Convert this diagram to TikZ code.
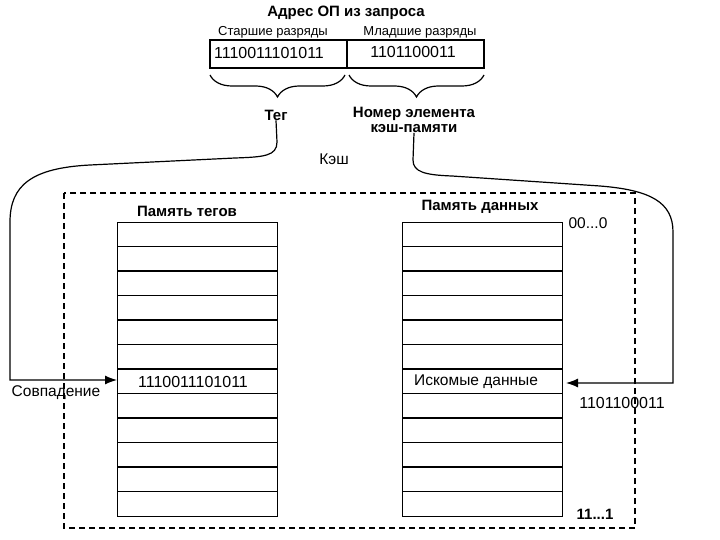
\documentclass[tikz,border=0pt]{standalone}
\usepackage{fontspec}
\setmainfont{Liberation Sans}
\usetikzlibrary{arrows.meta,decorations.pathreplacing}

\begin{document}
\begin{tikzpicture}[x=1pt,y=-1pt,
    line/.style={line width=1.2pt},
    txt/.style={inner sep=0pt,font=\fontsize{15.5}{17}\selectfont},
    digits/.style={inner sep=0pt,font=\fontsize{16}{18}\selectfont},
    small/.style={inner sep=0pt,font=\fontsize{13}{15}\selectfont},
    bold/.style={inner sep=0pt,font=\fontsize{15}{17}\selectfont\bfseries,align=center},
    mem/.style={draw,line width=1.2pt,minimum width=160pt,minimum height=294pt,inner sep=0pt,anchor=north west},
    brace/.style={decorate,decoration={brace,amplitude=22pt},line width=1.2pt},
    arr/.style={line,-{Latex[length=12pt,width=9pt]}}]
  \useasboundingbox (0,0) rectangle (720,540);

  % address from the request
  \node[bold] (title) at (346,13) {Адрес ОП из запроса};
  \node[small] (hi) at (273,32) {Старшие разряды};
  \node[small] (lo) at (420,32) {Младшие разряды};
  \draw[line] (210,40) rectangle (484,68);
  \draw[line] (347,40) -- (347,68);
  \node[digits] (tagbits) at (269,53) {1110011101011};
  \node[digits] (idxbits) at (413,52) {1101100011};

  \draw[brace] (345,75) -- (210,75);
  \draw[brace] (484,75) -- (349,75);
  \node[bold] (teg) at (276,115) {Тег};
  \node[bold,font=\fontsize{15}{15}\selectfont\bfseries] (nom) at (414,120) {Номер элемента\\кэш-памяти};

  % cache
  \draw[line,dash pattern=on 6pt off 4pt] (64,193) rectangle (635,528);
  \node[txt] (kesh) at (334,159) {Кэш};

  \node[bold] (tagname) at (187,211) {Память тегов};
  \node[bold] (dataname) at (480,207) {Память данных};
  \node[mem] (tagmem) at (117,222) {};
  \node[mem] (datamem) at (402,222) {};
  \foreach \i in {1,...,11} {
    \draw[line] (117,{222+24.5*\i}) -- (277,{222+24.5*\i});
    \draw[line] (402,{222+24.5*\i}) -- (562,{222+24.5*\i});
  }
  \node[txt] (first) at (588,223) {00...0};
  \node[bold] (last) at (595,514) {11...1};

  \node[digits] (found) at (193,382) {1110011101011};
  \node[txt] (data) at (476,382) {Искомые данные};

  % connectors
  \coordinate (tagin) at (117,380);
  \coordinate (datain) at (566,383);
  \draw[arr] (teg.south) -- (277,142) .. controls (277,156) and (264,157) .. (235,158)
    -- (90,165) .. controls (32,168) and (10,185) .. (10,222) |- (tagin);
  \draw[arr] (nom.south) -- (413,160) .. controls (413,172) and (425,175) .. (452,176)
    -- (600,186) .. controls (650,190) and (673,202) .. (673,232) |- (datain);

  \node[txt] (match) at (56,393) {Совпадение};
  \node[digits] (addr) at (622,403) {1101100011};
\end{tikzpicture}
\end{document}
